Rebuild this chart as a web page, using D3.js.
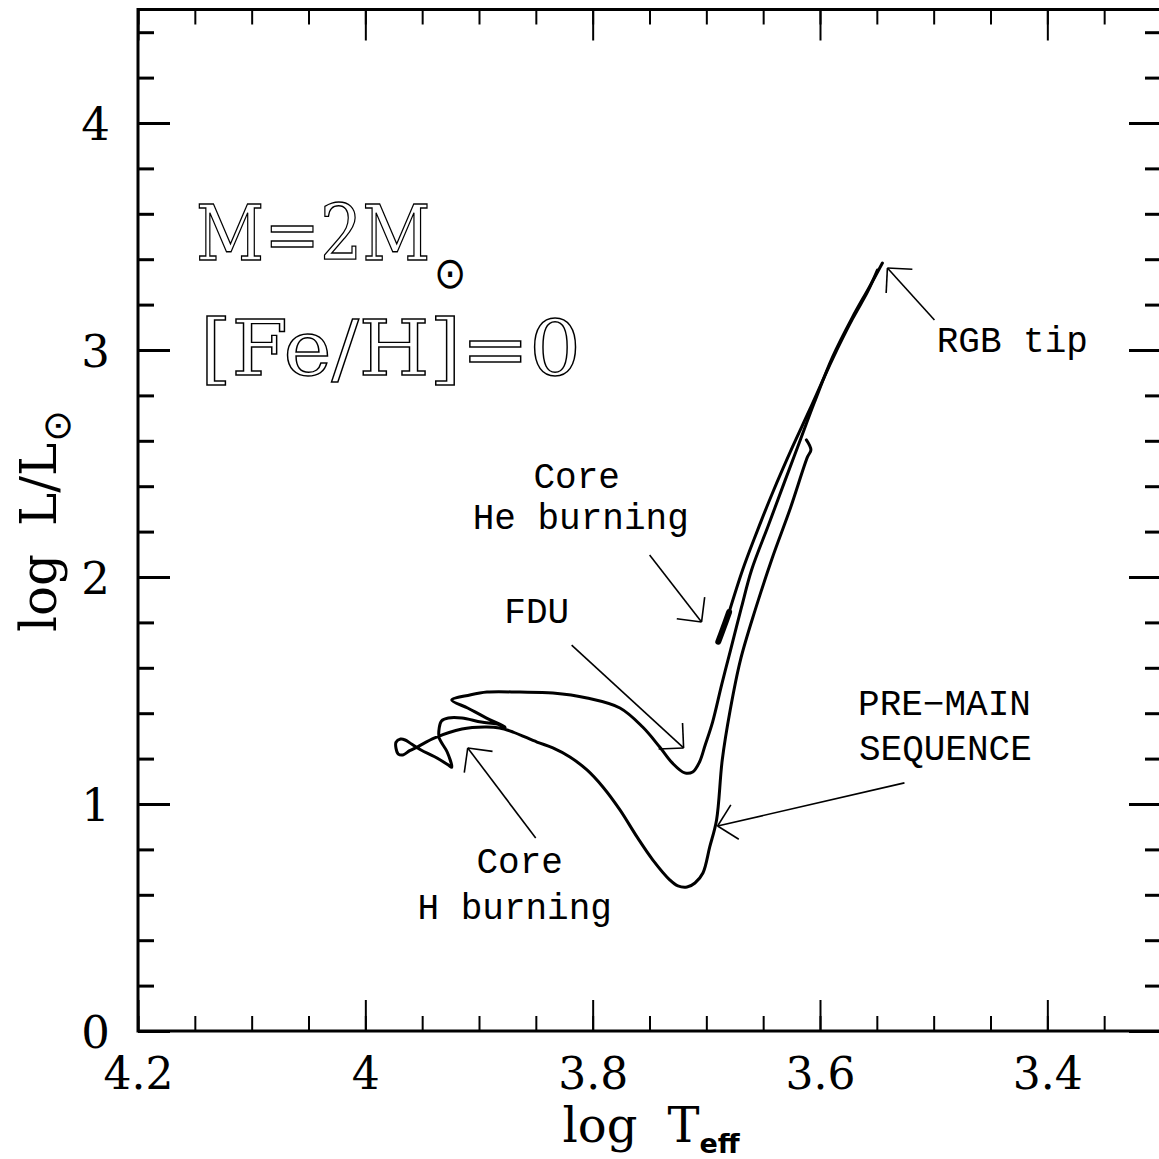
<!DOCTYPE html>
<html>
<head>
<meta charset="utf-8">
<script src="https://cdn.jsdelivr.net/npm/d3@7"></script>
<style>
  html, body { margin: 0; padding: 0; background: #fff; }
  svg { display: block; }
</style>
</head>
<body>
<div id="chart"></div>
<script>
// HR diagram, 2 Msun solar metallicity track

// [log Teff, log L/Lsun]
const preMainSequence = [
  [3.612, 2.604], [3.608, 2.560], [3.611, 2.529], [3.626, 2.304], [3.642, 2.084],
  [3.657, 1.855], [3.670, 1.634], [3.679, 1.414], [3.686, 1.194], [3.691, 0.930],
  [3.697, 0.811], [3.703, 0.696], [3.710, 0.652], [3.717, 0.634], [3.725, 0.639],
  [3.732, 0.665], [3.747, 0.753], [3.761, 0.855], [3.776, 0.974], [3.791, 1.075],
  [3.805, 1.150], [3.820, 1.207], [3.835, 1.247], [3.849, 1.273], [3.870, 1.317],
  [3.882, 1.335], [3.895, 1.339], [3.915, 1.330], [3.939, 1.291], [3.954, 1.252],
  [3.961, 1.235], [3.967, 1.216], [3.971, 1.220], [3.973, 1.245], [3.973, 1.272],
  [3.969, 1.286], [3.965, 1.282], [3.959, 1.263]
];

const mainSequence = [
  [3.951, 1.238], [3.939, 1.208], [3.927, 1.172], [3.924, 1.162], [3.928, 1.229],
  [3.935, 1.291], [3.935, 1.335], [3.933, 1.366], [3.927, 1.379], [3.915, 1.379],
  [3.898, 1.361], [3.884, 1.352], [3.877, 1.339], [3.895, 1.383], [3.910, 1.423],
  [3.924, 1.458]
];

const subgiantBranch = [
  [3.908, 1.480], [3.893, 1.493], [3.864, 1.493], [3.835, 1.489], [3.805, 1.467],
  [3.776, 1.423], [3.756, 1.339], [3.741, 1.251], [3.730, 1.181], [3.719, 1.137],
  [3.712, 1.141], [3.706, 1.185], [3.701, 1.260], [3.6945, 1.361]
];

const redGiantBranch = [
  [3.6866, 1.524], [3.6787, 1.678], [3.669, 1.868], [3.6602, 2.031], [3.6453, 2.229],
  [3.6312, 2.419], [3.618, 2.595], [3.6048, 2.771], [3.589, 2.969], [3.5714, 3.145],
  [3.5565, 3.278], [3.5451, 3.383]
];

const heliumBurning = [
  [3.6895, 1.715], [3.6850, 1.775], [3.6800, 1.845]
];

const asymptoticGiantBranch = [
  [3.6800, 1.845], [3.6681, 2.031], [3.6576, 2.172], [3.6418, 2.370], [3.6242, 2.573],
  [3.6092, 2.736], [3.589, 2.960], [3.5714, 3.137], [3.5582, 3.256], [3.5495, 3.352]
];

// arrows: tip and tail in data units
const arrowTip  = [[3.5407, 3.361], [3.7042, 1.802], [3.720, 1.247], [3.6901, 0.903], [3.9099, 1.247]];
const arrowTail = [[3.4993, 3.132], [3.7499, 2.097], [3.8185, 1.700], [3.5257, 1.093], [3.8501, 0.850]];

const annotationText = ["RGB tip", "Core", "He burning", "FDU", "PRE\u2212MAIN", "SEQUENCE", "Core", "H burning"];
const annotationLogT = [3.4308, 3.8141, 3.8105, 3.8492, 3.4905, 3.4897, 3.8642, 3.8686];
const annotationLogL = [2.991, 2.392, 2.211, 1.797, 1.392, 1.194, 0.696, 0.493];

const panelText = ["M=2M", "[Fe/H]=0"];
const panelLogT = [4.1490, 4.1455];
const panelLogL = [3.396, 2.890];

const xMajorTicks = [4.2, 4.0, 3.8, 3.6, 3.4];
const yMajorTicks = [0, 1, 2, 3, 4];
const xMinorTicks = d3.range(0, 19).map(i => +(3.3 + i * 0.05).toFixed(2));
const yMinorTicks = d3.range(1, 23).map(i => +(i * 0.2).toFixed(1));

const W = 1159, H = 1159;
const x = d3.scaleLinear().domain([4.2, 3.3]).range([138, 1161]);
const y = d3.scaleLinear().domain([0, 4.5]).range([1031, 9.5]);

const svg = d3.select('#chart').append('svg')
    .attr('width', W).attr('height', H)
    .style('background', '#fff');

const serif = 'DejaVu Serif';

function styleTicks(g, width) {
    g.select('.domain').remove();
    g.selectAll('.tick line').attr('stroke', '#000').attr('stroke-width', width);
}

// bottom
svg.append('g').attr('transform', 'translate(0,1031)')
    .call(d3.axisBottom(x).tickValues(xMinorTicks).tickSize(-15).tickFormat(''))
    .call(g => styleTicks(g, 2));
svg.append('g').attr('transform', 'translate(0,1031)')
    .call(d3.axisBottom(x).tickValues(xMajorTicks).tickSize(-31).tickPadding(27).tickFormat(d => String(d)))
    .call(g => styleTicks(g, 2))
    .call(g => g.selectAll('text').attr('font-family', serif).attr('font-size', 44).attr('fill', '#000'));

// top
svg.append('g').attr('transform', 'translate(0,9.5)')
    .call(d3.axisTop(x).tickValues(xMinorTicks).tickSize(-15).tickFormat(''))
    .call(g => styleTicks(g, 2));
svg.append('g').attr('transform', 'translate(0,9.5)')
    .call(d3.axisTop(x).tickValues(xMajorTicks).tickSize(-31).tickFormat(''))
    .call(g => styleTicks(g, 2));

// left
svg.append('g').attr('transform', 'translate(138,0)')
    .call(d3.axisLeft(y).tickValues(yMinorTicks).tickSize(-16).tickFormat(''))
    .call(g => styleTicks(g, 3));
svg.append('g').attr('transform', 'translate(138,0)')
    .call(d3.axisLeft(y).tickValues(yMajorTicks).tickSize(-32).tickPadding(28).tickFormat(d => String(d)))
    .call(g => styleTicks(g, 3))
    .call(g => g.selectAll('text').attr('font-family', serif).attr('font-size', 45)
        .attr('fill', '#000').attr('dy', '0.36em'));

// right
svg.append('g').attr('transform', 'translate(1161,0)')
    .call(d3.axisRight(y).tickValues(yMinorTicks).tickSize(-16).tickFormat(''))
    .call(g => styleTicks(g, 3));
svg.append('g').attr('transform', 'translate(1161,0)')
    .call(d3.axisRight(y).tickValues(yMajorTicks).tickSize(-32).tickFormat(''))
    .call(g => styleTicks(g, 3));

// frame
svg.append('rect')
    .attr('x', x(4.2)).attr('y', y(4.5))
    .attr('width', x(3.3) - x(4.2)).attr('height', y(0) - y(4.5))
    .attr('fill', 'none').attr('stroke', '#000').attr('stroke-width', 3);

// tracks
const line = d3.line()
    .x(d => x(d[0]))
    .y(d => y(d[1]))
    .curve(d3.curveCatmullRom.alpha(0.5));

const firstTrack = preMainSequence.concat(mainSequence, subgiantBranch, redGiantBranch);

svg.append('path').datum(firstTrack)
    .attr('d', line).attr('fill', 'none').attr('stroke', '#000')
    .attr('stroke-width', 3).attr('stroke-linejoin', 'round').attr('stroke-linecap', 'round');

svg.append('path').datum(asymptoticGiantBranch)
    .attr('d', line).attr('fill', 'none').attr('stroke', '#000')
    .attr('stroke-width', 3).attr('stroke-linejoin', 'round').attr('stroke-linecap', 'round');

svg.append('path').datum(heliumBurning)
    .attr('d', line).attr('fill', 'none').attr('stroke', '#000')
    .attr('stroke-width', 6).attr('stroke-linecap', 'round');

// arrows with open heads
const headLen = 25;
arrowTip.forEach((t, i) => {
    const tx = x(t[0]), ty = y(t[1]);
    const sx = x(arrowTail[i][0]), sy = y(arrowTail[i][1]);
    const a = Math.atan2(sy - ty, sx - tx);
    const g = svg.append('g').attr('stroke', '#000').attr('stroke-width', 1.6).attr('fill', 'none');
    g.append('line').attr('x1', tx).attr('y1', ty).attr('x2', sx).attr('y2', sy);
    [-Math.PI / 4, Math.PI / 4].forEach(da => {
        g.append('line').attr('x1', tx).attr('y1', ty)
            .attr('x2', tx + headLen * Math.cos(a + da))
            .attr('y2', ty + headLen * Math.sin(a + da));
    });
});

// annotation labels
svg.append('g').selectAll('text')
    .data(annotationText)
    .join('text')
    .attr('x', (d, i) => x(annotationLogT[i]))
    .attr('y', (d, i) => y(annotationLogL[i]))
    .attr('text-anchor', 'middle')
    .attr('font-family', 'Liberation Mono')
    .attr('font-size', 36)
    .attr('fill', '#000')
    .text(d => d);

// outlined panel text; mass label carries the sun symbol as a subscript
const massText = svg.append('text')
    .attr('transform', `translate(${x(panelLogT[0])},${y(panelLogL[0])}) scale(0.876,1)`)
    .attr('font-family', serif).attr('font-size', 76);
massText.append('tspan')
    .attr('fill', '#fff').attr('stroke', '#000').attr('stroke-width', 1.4)
    .text(panelText[0]);
massText.append('tspan')
    .attr('dx', 4).attr('dy', 28)
    .attr('font-family', 'DejaVu Sans').attr('font-size', 44).attr('fill', '#000')
    .text('\u2299');

svg.append('text')
    .attr('x', x(panelLogT[1])).attr('y', y(panelLogL[1]))
    .attr('font-family', serif).attr('font-size', 76)
    .attr('textLength', 381).attr('lengthAdjust', 'spacingAndGlyphs')
    .attr('fill', '#fff').attr('stroke', '#000').attr('stroke-width', 1.4)
    .text(panelText[1]);

// axis titles
const xt = svg.append('text')
    .attr('x', 651).attr('y', 1142)
    .attr('text-anchor', 'middle')
    .attr('font-family', serif).attr('font-size', 48).attr('fill', '#000');
xt.append('tspan').text('log');
xt.append('tspan').attr('dx', 30).text('T');
xt.append('tspan').attr('dy', 11).attr('font-family', 'DejaVu Sans').attr('font-weight', 'bold')
    .attr('font-size', 27).text('eff');

const yt = svg.append('text')
    .attr('transform', 'translate(56,521) rotate(-90)')
    .attr('text-anchor', 'middle')
    .attr('font-family', serif).attr('font-size', 50).attr('fill', '#000');
yt.append('tspan').text('log');
yt.append('tspan').attr('dx', 28).text('L/L');
yt.append('tspan').attr('dy', 14).attr('dx', 1).attr('font-family', 'DejaVu Sans')
    .attr('font-size', 38).text('\u2299');
</script>
</body>
</html>
